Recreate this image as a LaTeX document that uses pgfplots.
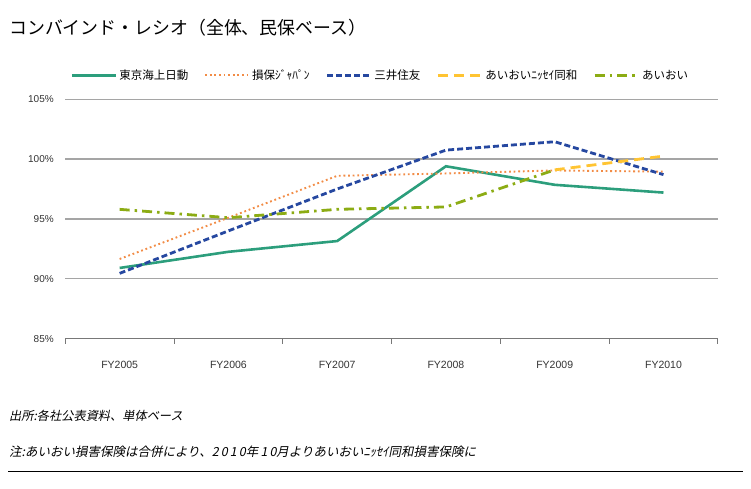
\documentclass[border=0pt]{standalone}
\usepackage{fontspec}
\usepackage{pgfplots}
\pgfplotsset{compat=1.18}
\setmainfont{Noto Sans CJK JP}
\newfontfamily\cjkit[FakeSlant=0.2]{Noto Sans CJK JP}
\newfontfamily\tickfont{Liberation Sans}
\definecolor{cteal}{RGB}{44,158,124}
\definecolor{corange}{RGB}{242,140,70}
\definecolor{cblue}{RGB}{38,72,160}
\definecolor{cyellow}{RGB}{255,196,50}
\definecolor{colive}{RGB}{140,172,20}
\definecolor{cgrid}{RGB}{165,165,165}
\definecolor{caxis}{RGB}{120,120,120}
\begin{document}
\begin{tikzpicture}[x=1pt,y=1pt]
\path[use as bounding box] (0,0) rectangle (751,488);
\node[anchor=west,inner sep=0pt] at (9,460) {\fontsize{17.9}{20}\selectfont コンバインド・レシオ（全体、民保ベース）};
\begin{axis}[
  at={(60,124.9)}, anchor=south west, scale only axis,
  width=652.6pt, height=239.3pt,
  xmin=-0.5, xmax=5.5, ymin=85, ymax=105,
  xtick={0,...,5},
  xticklabels={FY2005,FY2006,FY2007,FY2008,FY2009,FY2010},
  minor xtick={-0.5,0.5,...,5.5},
  major tick length=0pt, minor tick length=5pt,
  xtick align=outside,
  ytick={85,90,95,100,105},
  yticklabel={\pgfmathprintnumber{\tick}\%},
  /pgf/number format/assume math mode=true,
  axis x line*=bottom, axis y line*=left,
  y axis line style={draw=none},
  x axis line style={draw=caxis, line width=1.3pt},
  minor tick style={draw=caxis, line width=1pt},
  ymajorgrids,
  grid style={draw=cgrid, line width=1.3pt},
  xticklabel style={font=\tickfont\fontsize{10.5}{12}\selectfont, text=black!80, yshift=-19pt},
  yticklabel style={font=\tickfont\fontsize{10}{12}\selectfont, text=black!80, xshift=-8pt},
  legend columns=5,
  legend style={draw=none, fill=none, at={(0.008,1.1)}, anchor=west,
    font=\fontsize{11.5}{13}\selectfont,
    /tikz/every even column/.append style={column sep=14pt},
    inner sep=0pt},
  legend image code/.code={\draw[#1] (0pt,0pt) -- (44pt,0pt);},
]
\addplot[cteal, line width=2.6pt] coordinates {(0,90.9) (1,92.25) (2,93.15) (3,99.4) (4,97.85) (5,97.2)};
\addlegendentry{東京海上日動}
\addplot[corange, line width=1.9pt, dash pattern=on 1.8pt off 2.8pt] coordinates {(0,91.65) (1,95.1) (2,98.6) (3,98.8) (4,99.05) (5,98.95)};
\addlegendentry{損保ｼﾞｬﾊﾟﾝ}
\addplot[cblue, line width=2.8pt, dash pattern=on 6pt off 3pt] coordinates {(0,90.45) (1,94.0) (2,97.5) (3,100.75) (4,101.45) (5,98.7)};
\addlegendentry{三井住友}
\addplot[cyellow, line width=2.8pt, dash pattern=on 10pt off 6pt] coordinates {(4,99.1) (5,100.25)};
\addlegendentry{あいおいﾆｯｾｲ同和}
\addplot[colive, line width=2.8pt, dash pattern=on 10pt off 5pt on 2.5pt off 5pt] coordinates {(0,95.8) (1,95.1) (2,95.8) (3,96.0) (4,99.1)};
\addlegendentry{あいおい}
\end{axis}
\node[anchor=west,inner sep=0pt] at (9,72) {\cjkit\fontsize{12.2}{14}\selectfont 出所:各社公表資料、単体ベース};
\node[anchor=west,inner sep=0pt] at (9,36) {\cjkit\fontsize{12.5}{14}\selectfont 注:あいおい損害保険は合併により、2\,0\,1\,0年\,1\,0月よりあいおいﾆｯｾｲ同和損害保険に};
\draw[line width=1pt] (8,17) -- (743,17);
\end{tikzpicture}
\end{document}
